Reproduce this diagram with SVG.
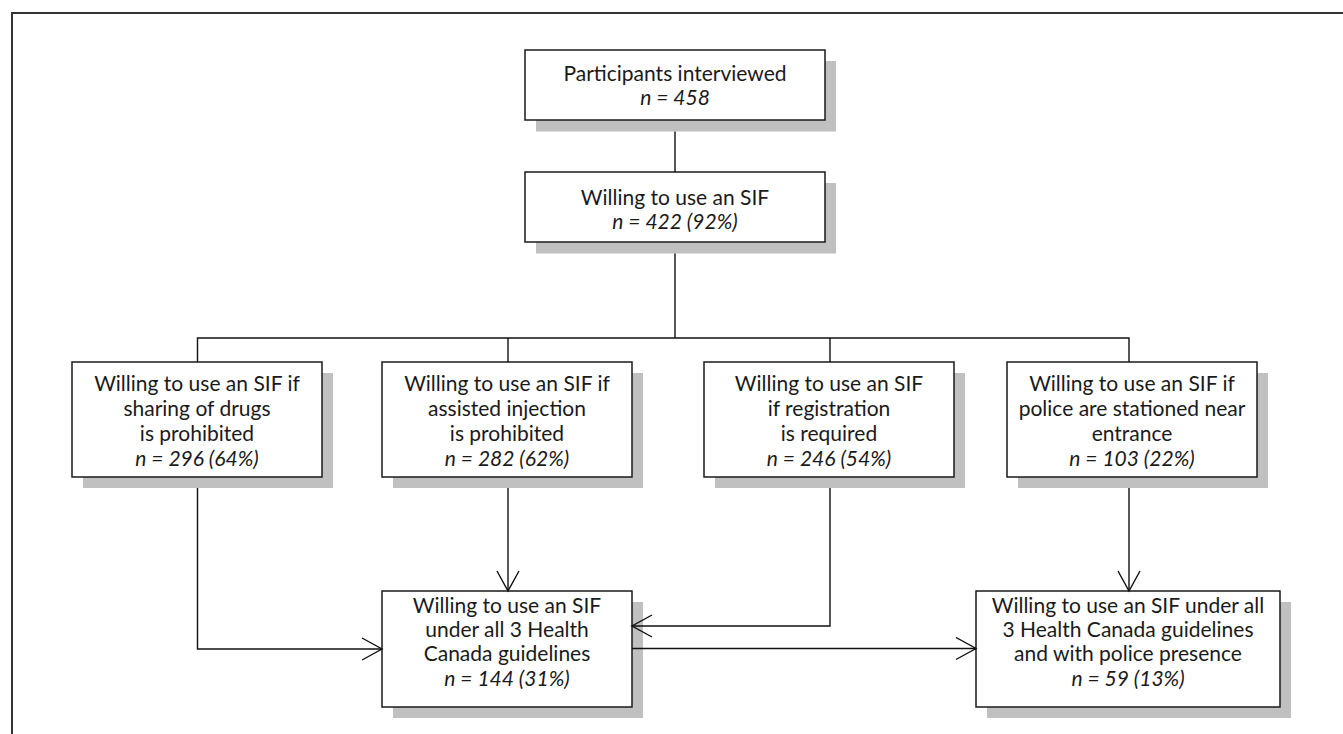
<svg xmlns="http://www.w3.org/2000/svg" width="1343" height="734" viewBox="0 0 1343 734">
<style>
.shadow{fill:#c0c0c0}
.box{fill:#fff;stroke:#1a1a1a;stroke-width:1.5}
.t{font-family:Lato,"Open Sans","Liberation Sans",sans-serif;font-size:21px;fill:#1a1a1a;text-anchor:middle}
.i{font-style:italic}
.c{fill:none;stroke:#111;stroke-width:1.4}
</style>
<defs>
<marker id="arr" markerWidth="24" markerHeight="26" refX="21" refY="12" orient="auto" markerUnits="userSpaceOnUse">
<path d="M1,1 L21,12 L1,23" fill="none" stroke="#111" stroke-width="1.4"/>
</marker>
</defs>
<rect width="1343" height="734" fill="#fff"/>
<path d="M12,734 V13 H1343" fill="none" stroke="#333" stroke-width="2"/>

<g id="n1">
<rect class="shadow" x="536" y="61" width="300" height="70.5"/>
<rect class="box" x="525" y="50" width="300" height="70"/>
<text class="t" x="675" y="81">Participants interviewed</text>
<text class="t i" x="675" y="105">n = 458</text>
</g>
<g id="n2">
<rect class="shadow" x="536" y="183" width="300" height="70.5"/>
<rect class="box" x="525" y="172" width="300" height="70"/>
<text class="t" x="675" y="205">Willing to use an SIF</text>
<text class="t i" x="675" y="229">n = 422 (92%)</text>
</g>
<g id="n3">
<rect class="shadow" x="83" y="373" width="250" height="115"/>
<rect class="box" x="72" y="362" width="250" height="115"/>
<text class="t" x="197" y="391">Willing to use an SIF if</text>
<text class="t" x="197" y="416">sharing of drugs</text>
<text class="t" x="197" y="441">is prohibited</text>
<text class="t i" x="197" y="466">n = 296 (64%)</text>
</g>
<g id="n4">
<rect class="shadow" x="393" y="373" width="250" height="115"/>
<rect class="box" x="382" y="362" width="250" height="115"/>
<text class="t" x="507" y="391">Willing to use an SIF if</text>
<text class="t" x="507" y="416">assisted injection</text>
<text class="t" x="507" y="441">is prohibited</text>
<text class="t i" x="507" y="466">n = 282 (62%)</text>
</g>
<g id="n5">
<rect class="shadow" x="715" y="373" width="250" height="115"/>
<rect class="box" x="704" y="362" width="250" height="115"/>
<text class="t" x="829" y="391">Willing to use an SIF</text>
<text class="t" x="829" y="416">if registration</text>
<text class="t" x="829" y="441">is required</text>
<text class="t i" x="829" y="466">n = 246 (54%)</text>
</g>
<g id="n6">
<rect class="shadow" x="1018" y="373" width="250" height="115"/>
<rect class="box" x="1007" y="362" width="250" height="115"/>
<text class="t" x="1132" y="391">Willing to use an SIF if</text>
<text class="t" x="1132" y="416">police are stationed near</text>
<text class="t" x="1132" y="441">entrance</text>
<text class="t i" x="1132" y="466">n = 103 (22%)</text>
</g>
<g id="n7">
<rect class="shadow" x="393" y="602" width="250" height="116"/>
<rect class="box" x="382" y="591" width="250" height="116"/>
<text class="t" x="507" y="613">Willing to use an SIF</text>
<text class="t" x="507" y="637">under all 3 Health</text>
<text class="t" x="507" y="661">Canada guidelines</text>
<text class="t i" x="507" y="686">n = 144 (31%)</text>
</g>
<g id="n8">
<rect class="shadow" x="987" y="602" width="304" height="116"/>
<rect class="box" x="976" y="591" width="304" height="116"/>
<text class="t" x="1128" y="613">Willing to use an SIF under all</text>
<text class="t" x="1128" y="637">3 Health Canada guidelines</text>
<text class="t" x="1128" y="661">and with police presence</text>
<text class="t i" x="1128" y="686">n = 59 (13%)</text>
</g>

<g id="connectors">
<path class="c" d="M675,131.5 V172"/>
<path class="c" d="M675,253.5 V338"/>
<path class="c" d="M197.5,362 V338 H1129 V362"/>
<path class="c" d="M508,338 V362"/>
<path class="c" d="M830,338 V362"/>
<path class="c" d="M197.5,488 V649 H382" marker-end="url(#arr)"/>
<path class="c" d="M508,488 V591" marker-end="url(#arr)"/>
<path class="c" d="M830,488 V626 H632" marker-end="url(#arr)"/>
<path class="c" d="M1129,488 V591" marker-end="url(#arr)"/>
<path class="c" d="M632,648.5 H976" marker-end="url(#arr)"/>
</g>
</svg>
